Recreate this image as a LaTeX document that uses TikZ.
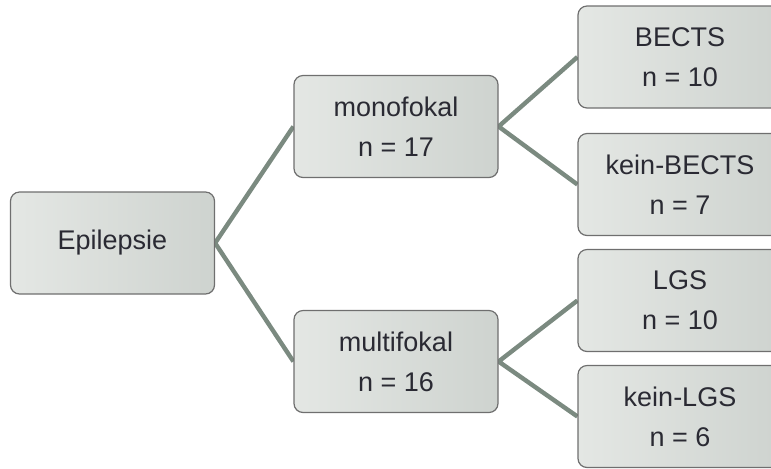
\documentclass[tikz,border=0pt]{standalone}
\usepackage{fontspec}
\setmainfont{Liberation Sans}
\usetikzlibrary{backgrounds}
\definecolor{boxl}{HTML}{E4E7E4}
\definecolor{boxr}{HTML}{CED3CF}
\definecolor{boxborder}{HTML}{6F6F6F}
\definecolor{linkcol}{HTML}{7B8A80}
\definecolor{txt}{HTML}{2A2A33}
\begin{document}
\begin{tikzpicture}[x=0.5pt,y=-0.5pt,
  box/.style={draw=boxborder, line width=0.6pt, rounded corners=4.5pt,
    left color=boxl, right color=boxr, minimum width=102pt, minimum height=51pt,
    inner sep=0pt, align=center, text=txt,
    font=\fontsize{13.5}{20}\selectfont},
  link/.style={draw=linkcol, line width=2.2pt}]
\clip (0,0) rectangle (771,468);
\useasboundingbox (0,0) rectangle (771,468);
\node[box] (epi) at (112.5,243) {Epilepsie};
\node[box] (mono) at (396,126.5) {monofokal\\n = 17};
\node[box] (multi) at (396,361.5) {multifokal\\n = 16};
\node[box] (bects) at (680,57) {BECTS\\n = 10};
\node[box] (kbects) at (680,184.5) {kein-BECTS\\n = 7};
\node[box] (lgs) at (680,300.5) {LGS\\n = 10};
\node[box] (klgs) at (680,416.5) {kein-LGS\\n = 6};
\begin{scope}[on background layer]
\draw[link] (mono.west) -- (epi.east) -- (multi.west);
\draw[link] (bects.west) -- (mono.east) -- (kbects.west);
\draw[link] (lgs.west) -- (multi.east) -- (klgs.west);
\end{scope}
\end{tikzpicture}
\end{document}
